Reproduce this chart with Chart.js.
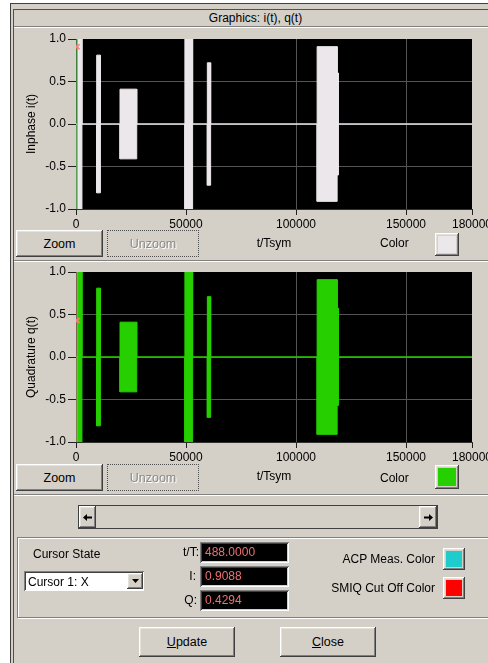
<!DOCTYPE html>
<html>
<head>
<meta charset="utf-8">
<title>Graphics: i(t), q(t)</title>
<script src="https://cdn.jsdelivr.net/npm/chart.js@4/dist/chart.umd.min.js"></script>
<style>
  html, body { margin: 0; padding: 0; }
  body {
    width: 488px; height: 663px; overflow: hidden; position: relative;
    background: #ffffff;
    font-family: "Liberation Sans", Arial, sans-serif; font-size: 12px; color: #000;
  }
  .a { position: absolute; }
  #frame { left: 10px; top: 3px; width: 600px; height: 700px; background: #d4d0c8; border-left: 1px solid #404040; border-top: 1px solid #404040; }
  .vline { width: 1px; background: #505050; }
  .hline { height: 1px; background: #808080; border-bottom: 1px solid #ffffff; }
  .txt { white-space: nowrap; line-height: 14px; }
  .btn {
    background: #d4d0c8; display: flex; align-items: center; justify-content: center;
    box-shadow: inset -1px -1px #404040, inset 1px 1px #ffffff, inset -2px -2px #808080, inset 2px 2px #e4e2dc;
    font-size: 12.5px;
  }
  .btn.off {
    box-shadow: none; border: 1px dotted #505050; box-sizing: border-box;
    color: #8c8a86; text-shadow: 1px 1px 0 #ffffff;
  }
  .swatch { box-shadow: inset -1px -1px #404040, inset 1px 1px #ffffff, inset -2px -2px #808080, inset 2px 2px #e4e2dc; }
  .swatch div { position: absolute; left: 3px; top: 3px; right: 3px; bottom: 3px; }
  .field {
    background: #000;
    box-shadow: inset 1px 1px #808080, inset -1px -1px #ffffff, inset 2px 2px #404040, inset -2px -2px #d4d0c8;
    color: #f07070; line-height: 21px; padding-left: 5px; box-sizing: border-box;
  }
  canvas { position: absolute; }
</style>
</head>
<body>
<div id="frame" class="a"></div>
<div class="a vline" style="left:13px; top:9px; height:660px;"></div>
<div class="a" style="left:13px; top:9px; width:480px; height:1px; background:#505050;"></div>
<div class="a txt" style="left:13px; top:11px; width:485px; text-align:center;">Graphics: i(t), q(t)</div>
<div class="a hline" style="left:14px; top:26px; width:480px;"></div>

<canvas id="inphaseChart" width="520" height="223" style="left:14px; top:28px;"></canvas>
<div class="a btn" style="left:16px; top:230px; width:87px; height:27px;">Zoom</div>
<div class="a btn off" style="left:107px; top:230px; width:92px; height:27px;">Unzoom</div>
<div class="a txt" style="left:380px; top:236px;">Color</div>
<div class="a swatch" style="left:435px; top:233px; width:24px; height:23px;"><div style="background:#ebe7eb;"></div></div>

<div class="a hline" style="left:14px; top:260px; width:480px;"></div>

<canvas id="quadratureChart" width="520" height="223" style="left:14px; top:261px;"></canvas>
<div class="a btn" style="left:16px; top:464px; width:87px; height:27px;">Zoom</div>
<div class="a btn off" style="left:107px; top:464px; width:92px; height:27px;">Unzoom</div>
<div class="a txt" style="left:380px; top:471px;">Color</div>
<div class="a swatch" style="left:435px; top:465px; width:24px; height:24px;"><div style="background:#26cf00;"></div></div>

<div class="a hline" style="left:14px; top:494px; width:480px;"></div>

<!-- horizontal scroll bar -->
<div class="a" style="left:78px; top:505px; width:360px; height:24px; box-sizing:border-box; border:1px solid #404040; background:#d4d0c8;"></div>
<div class="a btn" style="left:79px; top:506px; width:17px; height:22px;">
  <svg width="9" height="7" viewBox="0 0 9 7"><polygon points="0,3.5 4,0 4,2.5 9,2.5 9,4.5 4,4.5 4,7" fill="#000"/></svg>
</div>
<div class="a btn" style="left:419px; top:506px; width:18px; height:22px;">
  <svg width="9" height="7" viewBox="0 0 9 7"><polygon points="9,3.5 5,0 5,2.5 0,2.5 0,4.5 5,4.5 5,7" fill="#000"/></svg>
</div>

<!-- cursor group -->
<div class="a" style="left:17px; top:537px; width:500px; height:79px; border:1px solid #808080; box-shadow: inset 1px 1px #ffffff, 1px 1px #ffffff;"></div>
<div class="a txt" style="left:33px; top:547px;">Cursor State</div>
<div class="a" style="left:24px; top:571px; width:120px; height:20px; background:#ffffff; box-shadow: inset 1px 1px #808080, inset -1px -1px #ffffff, inset 2px 2px #404040;"></div>
<div class="a txt" style="left:28px; top:575px;">Cursor 1: X</div>
<div class="a btn" style="left:127px; top:573px; width:16px; height:16px;">
  <svg width="7" height="4" viewBox="0 0 7 4"><polygon points="0,0 7,0 3.5,4" fill="#000"/></svg>
</div>

<div class="a txt" style="left:150px; top:545px; width:49px; text-align:right;">t/T:</div>
<div class="a txt" style="left:150px; top:569px; width:46px; text-align:right;">I:</div>
<div class="a txt" style="left:150px; top:593px; width:47px; text-align:right;">Q:</div>
<div class="a field" id="fieldT" style="left:200px; top:542px; width:89px; height:21px;"></div>
<div class="a field" id="fieldI" style="left:200px; top:566px; width:89px; height:21px;"></div>
<div class="a field" id="fieldQ" style="left:200px; top:590px; width:89px; height:21px;"></div>

<div class="a txt" style="left:300px; top:552px; width:135px; text-align:right;">ACP Meas. Color</div>
<div class="a swatch" style="left:443px; top:548px; width:22px; height:22px;"><div style="background:#1fcccc;"></div></div>
<div class="a txt" style="left:300px; top:581px; width:135px; text-align:right;">SMIQ Cut Off Color</div>
<div class="a swatch" style="left:443px; top:577px; width:22px; height:22px;"><div style="background:#ff0000;"></div></div>

<div class="a btn" style="left:139px; top:627px; width:96px; height:30px;"><span><u>U</u>pdate</span></div>
<div class="a btn" style="left:280px; top:627px; width:96px; height:30px;"><span><u>C</u>lose</span></div>

<script>
// Time axis (t/Tsym) and amplitude axis
const xTicks = [0, 50000, 100000, 150000, 180000];
const yTicks = [-1.0, -0.5, 0.0, 0.5, 1.0];

// Signal bursts: start / end time and envelope amplitude of i(t) and q(t)
const burstStart    = [600,  9400,  20000, 49500, 59700, 109600, 118700];
const burstEnd      = [2700, 11100, 27600, 53000, 61200, 118700, 119300];
const inphaseAmp    = [1.0,  0.81,  0.41,  1.0,   0.72,  0.91,   0.60];
const quadratureAmp = [1.0,  0.81,  0.41,  1.0,   0.71,  0.91,   0.57];

// Cursor 1 readout
const cursorT = 488.0;
const cursorI = 0.9088;
const cursorQ = 0.4294;

document.getElementById('fieldT').textContent = cursorT.toFixed(4);
document.getElementById('fieldI').textContent = cursorI.toFixed(4);
document.getElementById('fieldQ').textContent = cursorQ.toFixed(4);

const xMin = xTicks[0], xMax = xTicks[xTicks.length - 1];
const yMin = yTicks[0], yMax = yTicks[yTicks.length - 1];

// Upper (sign=1) or lower (sign=-1) envelope of the burst signal, flat at zero between bursts
function envelope(amps, sign) {
  const pts = [{ x: xMin, y: 0 }];
  burstStart.forEach((s, i) => {
    const e = burstEnd[i];
    const a = amps[i] * sign;
    pts.push({ x: s, y: 0 }, { x: s, y: a }, { x: e, y: a }, { x: e, y: 0 });
  });
  pts.push({ x: xMax, y: 0 });
  return pts;
}

// Black plotting surface behind grid and traces
const plotBackground = {
  id: 'plotBackground',
  beforeDraw(chart) {
    const { ctx, chartArea: a } = chart;
    ctx.save();
    ctx.fillStyle = '#000000';
    ctx.fillRect(a.left, a.top, a.right - a.left, a.bottom - a.top);
    ctx.restore();
  }
};

const font = { family: '"Liberation Sans", Arial, sans-serif', size: 12 };
const gridColor = '#555555';
const tickColor = '#202020';

function makeChart(id, axisTitle, amps, traceColor, cursorColor, cursorValue) {
  return new Chart(document.getElementById(id), {
    type: 'line',
    data: {
      datasets: [
        { data: [{ x: cursorT, y: cursorValue }], showLine: false, pointStyle: 'crossRot',
          pointRadius: 3.5, borderColor: '#ff7a7a', backgroundColor: '#ff7a7a', borderWidth: 1.5 },
        { data: [{ x: cursorT, y: yMin }, { x: cursorT, y: yMax }], borderColor: cursorColor,
          borderWidth: 1, pointRadius: 0 },
        { data: envelope(amps, 1), borderColor: traceColor, backgroundColor: traceColor,
          borderWidth: 1, pointRadius: 0, fill: 'origin' },
        { data: envelope(amps, -1), borderColor: traceColor, backgroundColor: traceColor,
          borderWidth: 1, pointRadius: 0, fill: 'origin' }
      ]
    },
    options: {
      responsive: false,
      animation: false,
      devicePixelRatio: 1,
      events: [],
      layout: { padding: { left: 0, top: 11, right: 62, bottom: 0 } },
      plugins: { legend: { display: false }, tooltip: { enabled: false } },
      elements: { line: { tension: 0 } },
      scales: {
        x: {
          type: 'linear', min: xMin, max: xMax,
          afterBuildTicks: s => { s.ticks = xTicks.map(v => ({ value: v })); },
          afterFit: s => { s.height = 42; },
          ticks: { font, color: '#000', padding: 2, maxRotation: 0, autoSkip: false,
                   callback: v => String(v) },
          grid: {
            color: c => (c.tick && c.tick.value > xMin && c.tick.value < xMax) ? gridColor : 'rgba(0,0,0,0)',
            tickColor: tickColor, tickLength: 6, lineWidth: 1
          },
          border: { display: true, color: '#303030', width: 1 },
          title: { display: true, text: 't/Tsym', font, color: '#000', padding: { top: 0, bottom: 0 } }
        },
        y: {
          type: 'linear', min: yMin, max: yMax,
          afterBuildTicks: s => { s.ticks = yTicks.map(v => ({ value: v })); },
          afterFit: s => { s.width = 62; },
          ticks: { font, color: '#000', padding: 2, callback: v => v.toFixed(1) },
          grid: {
            color: c => (c.tick && c.tick.value > yMin && c.tick.value < yMax) ? gridColor : 'rgba(0,0,0,0)',
            tickColor: tickColor, tickLength: 8, lineWidth: 1
          },
          border: { display: true, color: '#303030', width: 1 },
          title: { display: true, text: axisTitle, font, color: '#000', padding: { top: 10, bottom: 0 } }
        }
      }
    },
    plugins: [plotBackground]
  });
}

makeChart('inphaseChart', 'Inphase i(t)', inphaseAmp, '#ebe7eb', '#22c41a', cursorI);
makeChart('quadratureChart', 'Quadrature q(t)', quadratureAmp, '#26cf00', '#e88a80', cursorQ);
</script>
</body>
</html>
